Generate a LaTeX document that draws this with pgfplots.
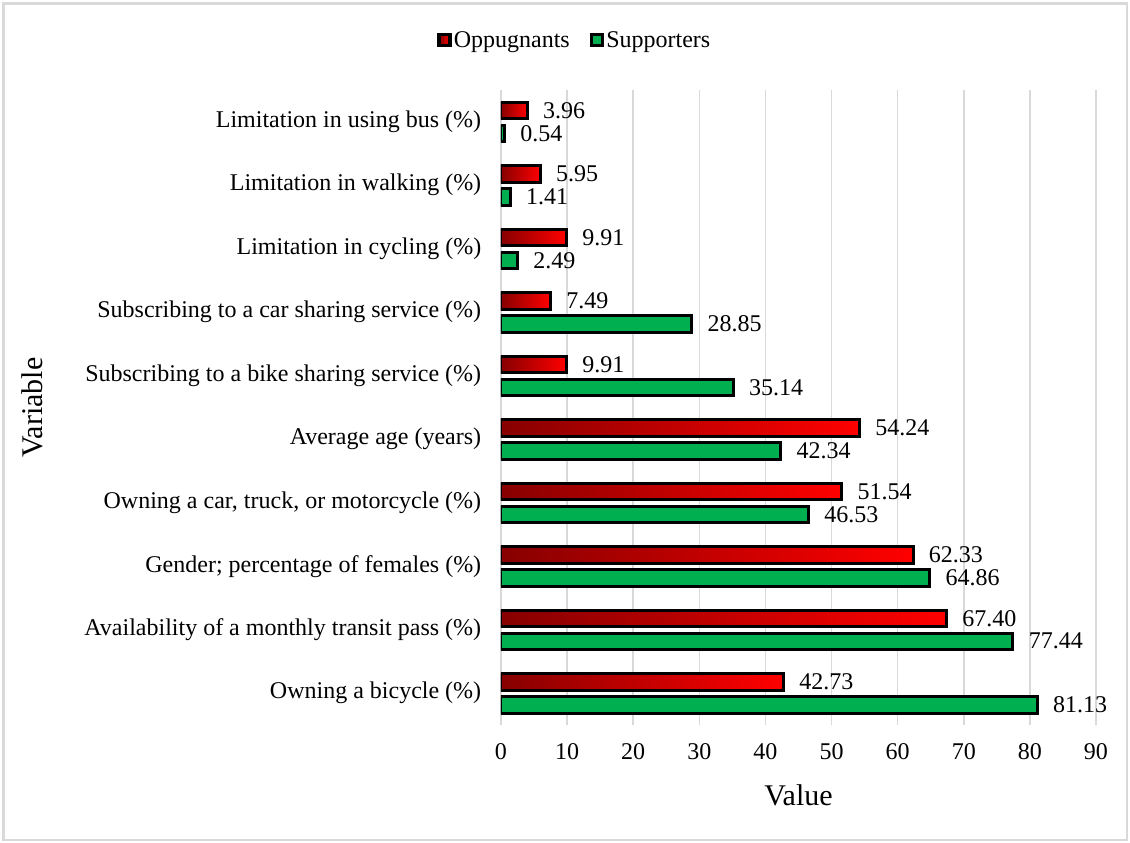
\documentclass[border=0pt]{standalone}
\usepackage{pgfplots}
\pgfplotsset{compat=1.18}
\usepackage{fontspec}
\setmainfont{Liberation Serif}
\definecolor{gridgray}{RGB}{217,217,217}
\definecolor{supgreen}{RGB}{0,176,80}
\definecolor{darkred}{RGB}{135,0,0}
\definecolor{brightred}{RGB}{255,0,0}

% one red bar, shaded from dark to bright along its own length
\pgfplotsset{
  oppbar/.style={draw=black, line width=3pt, left color=darkred, right color=brightred,
    bar shift=11.5pt},
}

\begin{document}
\begin{tikzpicture}
% page frame
\path (0,0) rectangle (1130pt,-843pt);
\draw[gridgray, line width=2.5pt] (3.5pt,-3.5pt) rectangle (1127pt,-840pt);
\begin{axis}[
  at={(501pt,-725pt)}, anchor=south west,
  scale only axis, width=595pt, height=635pt,
  xmin=0, xmax=90, ymin=-0.5, ymax=9.5,
  xtick={0,10,...,90},
  ytick={0,...,9},
  yticklabels={
    Owning a bicycle (\%),
    Availability of a monthly transit pass (\%),
    {Gender; percentage of females (\%)},
    {Owning a car, truck, or motorcycle (\%)},
    Average age (years),
    Subscribing to a bike sharing service (\%),
    Subscribing to a car sharing service (\%),
    Limitation in cycling (\%),
    Limitation in walking (\%),
    Limitation in using bus (\%)},
  xmajorgrids,
  grid style={gridgray, line width=1.6pt},
  axis line style={draw=none},
  major tick style={draw=none},
  xbar, bar width=16.5pt,
  /pgf/number format/assume math mode=true,
  tick label style={font=\fontsize{24}{28}\selectfont},
  yticklabel style={xshift=-12pt},
  xticklabel style={yshift=-15pt},
  xlabel={Value}, ylabel={Variable},
  every axis x label/.style={at={(rel axis cs:0.5,0)}, yshift=-70pt, anchor=center, font=\fontsize{30}{34}\selectfont},
  every axis y label/.style={at={(rel axis cs:0,0.5)}, xshift=-469pt, rotate=90, anchor=center, font=\fontsize{30}{34}\selectfont},
  nodes near coords={\pgfmathprintnumber[fixed,fixed zerofill,precision=2]{\pgfplotspointmeta}},
  every node near coord/.append style={anchor=west, xshift=11pt, font=\fontsize{24}{28}\selectfont, text=black},
  legend style={draw=none, fill=none, at={(rel axis cs:0.124,1.079)}, anchor=center,
    legend columns=2, font=\fontsize{24}{28}\selectfont,
    /tikz/every even column/.append style={column sep=18pt}},
]
% Oppugnants: one plot per bar so that each bar carries its own gradient
\addplot[oppbar,
  legend image code/.code={\draw[fill=brightred, draw=black, line width=3.5pt] (0pt,-5.5pt) rectangle (11pt,5.5pt);}]
  coordinates {(42.73,0)};
\addplot[oppbar, forget plot] coordinates {(67.40,1)};
\addplot[oppbar, forget plot] coordinates {(62.33,2)};
\addplot[oppbar, forget plot] coordinates {(51.54,3)};
\addplot[oppbar, forget plot] coordinates {(54.24,4)};
\addplot[oppbar, forget plot] coordinates {(9.91,5)};
\addplot[oppbar, forget plot] coordinates {(7.49,6)};
\addplot[oppbar, forget plot] coordinates {(9.91,7)};
\addplot[oppbar, forget plot] coordinates {(5.95,8)};
\addplot[oppbar, forget plot] coordinates {(3.96,9)};
% Supporters
\addplot[draw=black, line width=3pt, fill=supgreen,
  bar shift=-11.5pt,
  legend image code/.code={\draw[fill=supgreen, draw=black, line width=3.5pt] (0pt,-5.5pt) rectangle (11pt,5.5pt);}]
  coordinates {
  (81.13,0) (77.44,1) (64.86,2) (46.53,3) (42.34,4)
  (35.14,5) (28.85,6) (2.49,7) (1.41,8) (0.54,9)};
\legend{Oppugnants, Supporters}
\end{axis}
\end{tikzpicture}
\end{document}
